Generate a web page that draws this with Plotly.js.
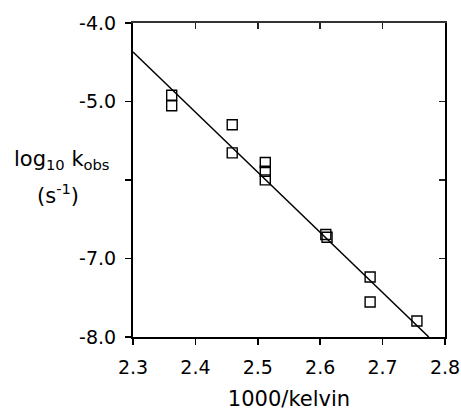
<!DOCTYPE html>
<html>
<head>
<meta charset="utf-8">
<script src="https://cdn.plot.ly/plotly-3.0.1.min.js"></script>
<style>html,body{margin:0;padding:0;background:#fff;}#chart{width:461px;height:411px;}</style>
</head>
<body>
<div id="chart"></div>
<script>
// Data
const invT = [2.362, 2.362, 2.459, 2.459, 2.512, 2.512, 2.512, 2.609, 2.611, 2.680, 2.680, 2.755];
const logK = [-4.92, -5.055, -5.297, -5.654, -5.777, -5.888, -5.999, -6.695, -6.73, -7.236, -7.555, -7.797];
const fitX = [2.3, 2.774];
const fitY = [-4.37, -8.0];
const xTickVals = [2.3, 2.4, 2.5, 2.6, 2.7, 2.8];
const xTickText = ["2.3", "2.4", "2.5", "2.6", "2.7", "2.8"];
const yTickVals = [-4, -5, -6, -7, -8];
const yTickText = ["-4.0", "-5.0", "", "-7.0", "-8.0"];

const FONT = "DejaVu Sans, Verdana, sans-serif";

const traces = [
  {
    x: fitX, y: fitY, type: 'scatter', mode: 'lines',
    line: {color: '#000', width: 1.5},
    xaxis: 'x2', yaxis: 'y2', hoverinfo: 'skip', showlegend: false
  },
  {
    x: invT, y: logK, type: 'scatter', mode: 'markers',
    marker: {symbol: 'square-open', size: 10, color: '#000', line: {width: 1.4, color: '#000'}},
    showlegend: false
  }
];

const layout = {
  width: 461, height: 411,
  margin: {l: 133, r: 16, t: 23, b: 74},
  paper_bgcolor: '#fff', plot_bgcolor: '#fff',
  font: {family: FONT, size: 19, color: '#000'},
  showlegend: false,
  xaxis: {
    range: [2.3, 2.8], tickvals: xTickVals, ticktext: xTickText,
    ticks: 'outside', ticklen: 6, tickwidth: 1.5, tickcolor: '#000',
    ticklabelstandoff: 6,
    showline: true, linewidth: 2, linecolor: '#000',
    showgrid: false, zeroline: false,
    tickfont: {family: FONT, size: 19, color: '#000'},
    title: {text: '1000/kelvin', font: {family: FONT, size: 21, color: '#000'}, standoff: 15}
  },
  yaxis: {
    range: [-8, -4], tickvals: yTickVals, ticktext: yTickText,
    ticks: 'outside', ticklen: 6, tickwidth: 1.5, tickcolor: '#000',
    ticklabelstandoff: 5,
    showline: true, linewidth: 2, linecolor: '#000',
    showgrid: false, zeroline: false,
    tickfont: {family: FONT, size: 19, color: '#000'}
  },
  xaxis2: {
    overlaying: 'x', side: 'top', range: [2.3, 2.8], tickvals: xTickVals,
    showticklabels: false, ticks: 'inside', ticklen: 6, tickwidth: 1.5, tickcolor: '#222',
    showline: true, linewidth: 2, linecolor: '#333', showgrid: false, zeroline: false
  },
  yaxis2: {
    overlaying: 'y', side: 'right', range: [-8, -4], tickvals: yTickVals,
    showticklabels: false, ticks: 'inside', ticklen: 6, tickwidth: 1.5, tickcolor: '#222',
    showline: true, linewidth: 2, linecolor: '#000', showgrid: false, zeroline: false
  },
  annotations: [
    {
      xref: 'paper', yref: 'paper', x: -0.228, y: 0.565, xanchor: 'center', yanchor: 'middle',
      text: 'log<sub>10</sub> k<sub>obs</sub>', showarrow: false,
      font: {family: FONT, size: 21, color: '#000'}
    },
    {
      xref: 'paper', yref: 'paper', x: -0.24, y: 0.455, xanchor: 'center', yanchor: 'middle',
      text: '(s<sup>-1</sup>)', showarrow: false,
      font: {family: FONT, size: 21, color: '#000'}
    }
  ]
};

Plotly.newPlot('chart', traces, layout, {displayModeBar: false, staticPlot: true});
</script>
</body>
</html>
